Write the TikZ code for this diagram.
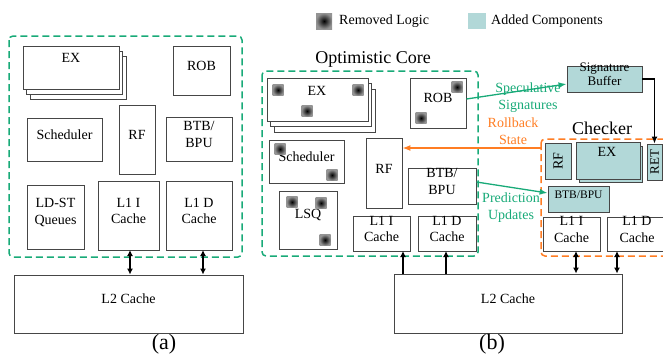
\documentclass[tikz,border=0pt]{standalone}
\usepackage{fontspec}
\setmainfont{Liberation Serif}
\usetikzlibrary{arrows.meta,fit,calc}

\definecolor{addc}{RGB}{178,216,216}
\definecolor{pgreen}{RGB}{24,170,120}
\definecolor{porange}{RGB}{255,125,35}
\definecolor{edge}{RGB}{70,70,70}

\newcommand\fsz[2]{\fontsize{#1}{#2}\selectfont}
% shaded marker for logic taken out of a block
\newcommand\rmlogic[3][5.5]{\shade[inner color=black, outer color=black!42]
  (#2-#1,#3-#1) rectangle (#2+#1,#3+#1);}

\tikzset{
  blk/.style={draw=edge, line width=0.9pt, fill=white, inner sep=0pt,
    align=center, font=\fsz{14}{16.5}},
  added/.style={blk, fill=addc},
  sheet/.style={draw=edge, line width=0.9pt, fill=white},
  addsheet/.style={draw=edge, line width=0.9pt, fill=addc},
  corebox/.style={draw=pgreen, line width=1.5pt, dash pattern=on 7pt off 4pt,
    rounded corners=4pt},
  chkbox/.style={draw=porange, line width=1.5pt, dash pattern=on 7pt off 4pt,
    rounded corners=4pt},
  lbl/.style={inner sep=0pt, align=center, font=\fsz{14}{17}},
  busarrow/.style={line width=1.3pt,
    {Latex[length=6pt,width=6pt]}-{Latex[length=6pt,width=6pt]}},
  uparrow/.style={line width=1.3pt, -{Latex[length=6pt,width=6pt]}},
  sigarrow/.style={draw=pgreen, line width=1.3pt, -{Latex[length=8pt,width=6pt]}},
  rbarrow/.style={draw=porange, line width=1.3pt, -{Latex[length=8pt,width=6pt]}},
}

\begin{document}
\begin{tikzpicture}[x=1pt, y=-1pt]
\useasboundingbox (0,0) rectangle (663,354);
\clip (0,0) rectangle (663,354);

% ---------------- legend ----------------
\rmlogic[8]{324}{21}
\node[lbl, anchor=west] (lgrm) at (339,21) {Removed Logic};
\node[draw=none, fill=addc, inner sep=0pt, fit={(468,13) (486,29)}] (lgadd) {};
\node[lbl, anchor=west] (lgaddt) at (491,21) {Added Components};

% ---------------- (a) baseline core ----------------
\draw[corebox] (9,36) rectangle (242,257);
\draw[sheet] (30,56) rectangle (126,99);
\draw[sheet] (26.5,51) rectangle (122.5,94);
\node[blk, fit={(23,46) (119,89)}] (exa) {};
\node[lbl] (exat) at (71,58) {EX};
\node[blk, fit={(173,46) (230,95)}] (roba) {ROB};
\node[blk, fit={(27,118) (102,161)}] (scha) {Scheduler};
\node[blk, fit={(119,105) (155,174)}] (rfa) {RF};
\node[blk, fit={(166,117) (232,161)}] (btba) {BTB/\\BPU};
\node[blk, fit={(27,185) (84,249)}] (ldsta) {LD-ST\\Queues};
\node[blk, fit={(98,181) (159,250)}] (l1ia) {L1 I\\Cache};
\node[blk, fit={(166,181) (232,250)}] (l1da) {L1 D\\Cache};
\node[blk, fit={(14,275) (243,333)}] (l2a) {L2 Cache};
\coordinate (aport1) at (130,250);
\coordinate (aport2) at (203,250);
\draw[busarrow] (aport1 |- l2a.north) -- (aport1);
\draw[busarrow] (aport2 |- l2a.north) -- (aport2);
\node[font=\fsz{22}{24}] (capa) at (164,344) {(a)};

% ---------------- (b) optimistic core ----------------
\node[font=\fsz{18}{20}] (optt) at (373,59) {Optimistic Core};
\draw[corebox] (262,71) rectangle (478,256);
\draw[sheet] (274,89) rectangle (375,132);
\draw[sheet] (270.5,83.5) rectangle (371.5,126.5);
\node[blk, fit={(267,78) (368,121)}] (exb) {};
\node[lbl] (exbt) at (317,91) {EX};
\rmlogic{278}{90} \rmlogic{358}{90} \rmlogic{307}{111}
\node[blk, fit={(410,78) (466,128)}] (robb) {ROB};
\rmlogic{457}{87} \rmlogic{421}{118}
\node[blk, fit={(269,140) (344,183)}] (schb) {Scheduler};
\rmlogic{280}{149} \rmlogic{332}{175}
\node[blk, fit={(279,191) (337,249)}] (lsqb) {LSQ};
\rmlogic{292}{202} \rmlogic{321}{203} \rmlogic{325}{240}
\node[blk, fit={(366,138) (402,208)}] (rfb) {RF};
\node[blk, fit={(408,168) (476,204)}] (btbb) {BTB/\\BPU};
\node[blk, fit={(353,216) (410,251)}] (l1ib) {L1 I\\Cache};
\node[blk, fit={(418,216) (476,251)}] (l1db) {L1 D\\Cache};
\node[blk, fit={(394,274) (622,333)}] (l2b) {L2 Cache};
\coordinate (bport1) at (403,251);
\coordinate (bport2) at (446,251);
\draw[uparrow] (bport1 |- l2b.north) -- (bport1);
\draw[uparrow] (bport2 |- l2b.north) -- (bport2);

% ---------------- checker ----------------
\node[font=\fsz{18}{20}] (chkt) at (602,128) {Checker};
\draw[chkbox] (541,139) rectangle (672,256);
\coordinate (chkw) at (541,148);
\node[added, fit={(545,143) (571,179)}] (crf) {};
\node[lbl, rotate=90] (crft) at (crf.center) {RF};
\draw[addsheet] (579,146) rectangle (642,182);
\node[added, fit={(576,142) (640,179)}] (cex) {};
\node[lbl] (cext) at (607,152) {EX};
\node[added, fit={(647,144) (662,180)}] (cret) {};
\node[lbl, rotate=90, font=\fsz{13}{14}] (crett) at (cret.center) {RET};
\node[added, fit={(548,186) (609,212)}, font=\fsz{11.5}{13}] (cbtb) {BTB/BPU};
\node[blk, fit={(543,217) (600,251)}] (cl1i) {L1 I\\Cache};
\node[blk, fit={(607,217) (667,251)}] (cl1d) {L1 D\\Cache};
\coordinate (cport1) at (576,251);
\coordinate (cport2) at (617,251);
\draw[busarrow] (cport1 |- l2b.north) -- (cport1);
\draw[busarrow] (cport2 |- l2b.north) -- (cport2);

\node[added, fit={(567,66) (642,92)}, font=\fsz{13}{14}] (sb) {Signature\\Buffer};
\node[font=\fsz{22}{24}] (capb) at (492,344) {(b)};

% ---------------- cross links ----------------
\node[lbl, text=pgreen] (spect) at (528,97.5) {Speculative\\Signatures};
\node[lbl, text=porange] (rbt) at (513,131.5) {Rollback\\State};
\node[lbl, text=pgreen] (predt) at (511,207.5) {Prediction\\Updates};
\draw[sigarrow] ($(robb.east)+(0,-4)$) -- ($(sb.west)+(0,5)$);
\draw[line width=1.3pt, -{Latex[length=7pt,width=6pt]}] (sb.east) -| (cret.north);
\draw[rbarrow] (chkw) -- (chkw -| rfb.east);
\draw[sigarrow] ($(btbb.east)+(0,-4)$) -- ($(cbtb.west)+(0,-6)$);
\end{tikzpicture}
\end{document}
